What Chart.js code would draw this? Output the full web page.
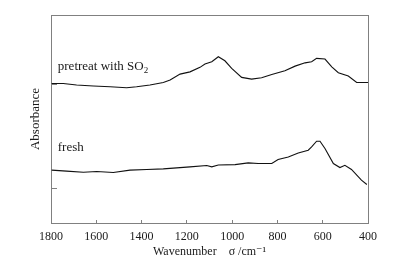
<!DOCTYPE html>
<html>
<head>
<meta charset="utf-8">
<script src="https://cdn.jsdelivr.net/npm/chart.js@4/dist/chart.umd.min.js"></script>
<style>
  body { margin: 0; background: #fff; }
  #wrap { width: 396px; height: 265px; }
</style>
</head>
<body>
<div id="wrap"><canvas id="irChart"></canvas></div>
<script>
// IR spectra, wavenumber (cm-1) vs absorbance (arbitrary units)
const pretreatWn  = [1797, 1746, 1687, 1613, 1539, 1466, 1422, 1363, 1304, 1274, 1230, 1186, 1142, 1120, 1090, 1061, 1032, 1002, 958, 914, 870, 825, 767, 722, 678, 649, 627, 590, 560, 531, 487, 450, 400];
const pretreatAbs = [8.05, 8.05, 7.96, 7.90, 7.86, 7.80, 7.86, 7.96, 8.11, 8.25, 8.59, 8.72, 8.98, 9.17, 9.30, 9.59, 9.36, 8.92, 8.40, 8.30, 8.38, 8.57, 8.78, 9.05, 9.24, 9.30, 9.50, 9.46, 9.01, 8.67, 8.48, 8.11, 8.11];

const freshWn  = [1797, 1731, 1657, 1598, 1525, 1451, 1377, 1304, 1245, 1186, 1112, 1090, 1061, 987, 929, 885, 825, 797, 752, 708, 664, 649, 627, 612, 590, 553, 524, 502, 473, 429, 405];
const freshAbs = [3.05, 2.99, 2.93, 2.97, 2.91, 3.05, 3.09, 3.12, 3.18, 3.24, 3.32, 3.24, 3.35, 3.37, 3.47, 3.43, 3.43, 3.66, 3.81, 4.04, 4.20, 4.39, 4.72, 4.72, 4.30, 3.43, 3.20, 3.33, 3.09, 2.47, 2.22];

const yTickValues = [2, 8];

// curve labels, placed in data coordinates
const curveLabels = [
  { text: 'pretreat with SO', sub: '2', wn: 1770, abs: 8.82 },
  { text: 'fresh', sub: '', wn: 1770, abs: 4.14 }
];

function toPoints(xs, ys) {
  return xs.map((x, i) => ({ x: x, y: ys[i] }));
}

const frameColor = '#808080';
const serif = "'Liberation Serif', 'DejaVu Serif', serif";

const labelPlugin = {
  id: 'curveLabels',
  afterDatasetsDraw(chart) {
    const ctx = chart.ctx;
    const xs = chart.scales.x, ys = chart.scales.y;
    ctx.save();
    ctx.fillStyle = '#1a1a1a';
    ctx.textBaseline = 'alphabetic';
    ctx.textAlign = 'left';
    curveLabels.forEach(l => {
      const px = xs.getPixelForValue(l.wn);
      const py = ys.getPixelForValue(l.abs);
      ctx.font = '13px ' + serif;
      ctx.fillText(l.text, px, py);
      if (l.sub) {
        const w = ctx.measureText(l.text).width;
        ctx.font = '9px ' + serif;
        ctx.fillText(l.sub, px + w, py + 3);
      }
    });
    ctx.restore();
  }
};

const ctx = document.getElementById('irChart').getContext('2d');
const irChart = new Chart(ctx, {
  type: 'line',
  data: {
    datasets: [
      {
        label: 'pretreat with SO2',
        data: toPoints(pretreatWn, pretreatAbs),
        borderColor: '#111',
        borderWidth: 1.1,
        pointRadius: 0,
        fill: false
      },
      {
        label: 'fresh',
        data: toPoints(freshWn, freshAbs),
        borderColor: '#111',
        borderWidth: 1.1,
        pointRadius: 0,
        fill: false
      }
    ]
  },
  options: {
    responsive: true,
    maintainAspectRatio: false,
    animation: false,
    layout: { padding: { top: 15, right: 28, left: 0, bottom: 0 } },
    plugins: {
      legend: { display: false },
      tooltip: { enabled: false }
    },
    scales: {
      x: {
        type: 'linear',
        position: 'bottom',
        reverse: true,
        min: 400,
        max: 1800,
        afterFit(scale) { scale.height = 42; },
        ticks: {
          stepSize: 200,
          color: '#1a1a1a',
          padding: 10,
          maxRotation: 0,
          font: { family: serif, size: 12 },
          callback: v => String(v)
        },
        grid: { drawOnChartArea: false, tickLength: -3, color: frameColor },
        border: { color: frameColor, width: 1 },
        title: {
          display: true,
          text: 'Wavenumber    σ /cm⁻¹',
          color: '#1a1a1a',
          font: { family: serif, size: 12 },
          padding: { top: 0, bottom: 6 }
        }
      },
      y: {
        type: 'linear',
        position: 'left',
        min: 0,
        max: 12,
        afterFit(scale) { scale.width = 51; },
        afterBuildTicks(scale) { scale.ticks = yTickValues.map(v => ({ value: v })); },
        ticks: { display: false },
        grid: { drawOnChartArea: false, tickLength: -6, color: frameColor },
        border: { color: frameColor, width: 1 },
        title: {
          display: true,
          text: 'Absorbance',
          color: '#1a1a1a',
          font: { family: serif, size: 13 },
          padding: { top: 28, bottom: 0 }
        }
      },
      x2: {
        type: 'linear',
        position: 'top',
        min: 400,
        max: 1800,
        afterFit(scale) { scale.height = 0; },
        ticks: { display: false },
        grid: { drawOnChartArea: false, drawTicks: false },
        border: { color: frameColor, width: 1 }
      },
      y2: {
        type: 'linear',
        position: 'right',
        min: 0,
        max: 12,
        afterFit(scale) { scale.width = 0; },
        ticks: { display: false },
        grid: { drawOnChartArea: false, drawTicks: false },
        border: { color: frameColor, width: 1 }
      }
    }
  },
  plugins: [labelPlugin]
});
</script>
</body>
</html>
